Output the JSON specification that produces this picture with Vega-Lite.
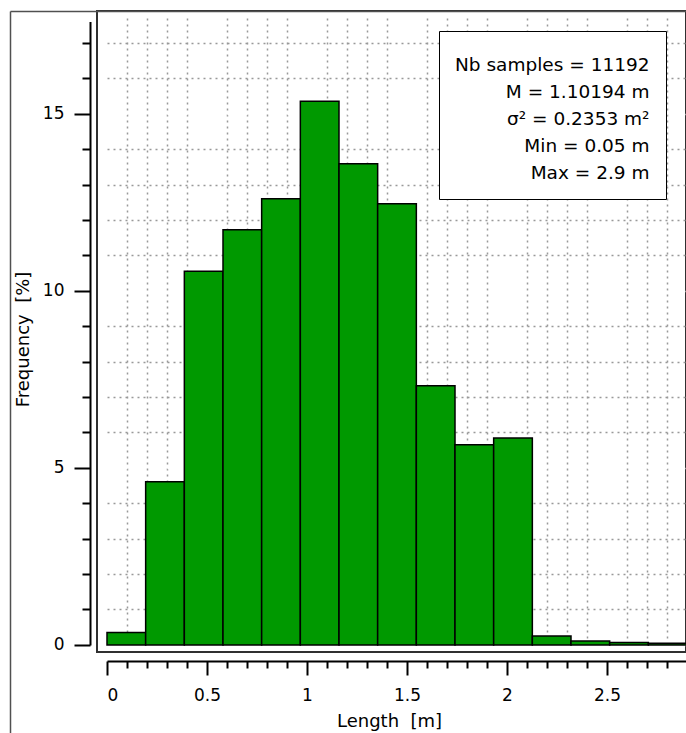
{
  "$schema": "https://vega.github.io/schema/vega-lite/v6.json",
  "width": 589,
  "height": 641,
  "autosize": {"type": "none"},
  "padding": {"left": 97, "top": 11, "right": 0, "bottom": 81},
  "background": "white",
  "config": {
    "view": {"fill": "#c0c0c0", "stroke": "#303030", "strokeWidth": 2},
    "font": "DejaVu Sans",
    "axis": {
      "labelFont": "DejaVu Sans", "labelFontSize": 17, "labelColor": "black",
      "titleFont": "DejaVu Sans", "titleFontSize": 18, "titleFontWeight": "normal", "titleColor": "black",
      "domainColor": "black", "tickColor": "black", "domainWidth": 2, "tickWidth": 2, "gridWidth": 1.5
    }
  },
  "datasets": {
    "hist": [
      {"start": 0.0, "end": 0.1933, "freq": 0.35},
      {"start": 0.1933, "end": 0.3867, "freq": 4.61},
      {"start": 0.3867, "end": 0.58, "freq": 10.55},
      {"start": 0.58, "end": 0.7733, "freq": 11.72},
      {"start": 0.7733, "end": 0.9667, "freq": 12.6},
      {"start": 0.9667, "end": 1.16, "freq": 15.35},
      {"start": 1.16, "end": 1.3533, "freq": 13.59},
      {"start": 1.3533, "end": 1.5467, "freq": 12.46},
      {"start": 1.5467, "end": 1.74, "freq": 7.32},
      {"start": 1.74, "end": 1.9333, "freq": 5.65},
      {"start": 1.9333, "end": 2.1267, "freq": 5.84},
      {"start": 2.1267, "end": 2.32, "freq": 0.25},
      {"start": 2.32, "end": 2.5133, "freq": 0.11},
      {"start": 2.5133, "end": 2.7067, "freq": 0.07},
      {"start": 2.7067, "end": 2.9, "freq": 0.05}
    ],
    "stats": [
      {"stat": "Nb samples = 11192"},
      {"stat": "M = 1.10194 m"},
      {"stat": "σ² = 0.2353 m²"},
      {"stat": "Min = 0.05 m"},
      {"stat": "Max = 2.9 m"}
    ]
  },
  "layer": [
    {
      "data": {"name": "hist"},
      "mark": {"type": "rect", "fill": "#009900", "stroke": "black", "strokeWidth": 1.5, "clip": true},
      "encoding": {
        "x": {"field": "start", "type": "quantitative", "scale": {"domain": [-0.05, 2.895], "nice": false, "zero": false}, "axis": null},
        "x2": {"field": "end"},
        "y": {"field": "freq", "type": "quantitative", "scale": {"domain": [-0.2, 17.9], "nice": false, "zero": false}, "axis": null},
        "y2": {"datum": 0}
      }
    },
    {
      "data": {"name": "hist"},
      "mark": {"type": "point", "opacity": 0},
      "encoding": {
        "x": {"field": "start", "type": "quantitative",
          "scale": {"domain": [0, 2.9], "range": [10, 590], "nice": false, "zero": false},
          "axis": {"orient": "bottom", "offset": 9, "values": [0, 0.5, 1, 1.5, 2, 2.5], "format": "~g",
            "tickSize": 14, "labelPadding": 12, "grid": true, "gridColor": "white", "gridDash": [2, 4],
            "title": "Length\u00a0 [m]", "titleX": 292, "titleY": 65, "titleBaseline": "alphabetic"}},
        "y": {"field": "freq", "type": "quantitative",
          "scale": {"domain": [0, 17.6], "range": [633.9, 10.6], "nice": false, "zero": false},
          "axis": {"orient": "left", "offset": 7, "values": [0, 5, 10, 15], "format": "~g",
            "tickSize": 16, "labelPadding": 10, "grid": true, "gridColor": "white", "gridDash": [2, 4],
            "title": "Frequency\u00a0 [%]", "titleX": -62, "titleY": 328, "titleBaseline": "alphabetic", "titleAngle": 270}}
      }
    },
    {
      "data": {"name": "hist"},
      "mark": {"type": "point", "opacity": 0},
      "encoding": {
        "x": {"field": "start", "type": "quantitative",
          "scale": {"domain": [0, 2.9], "range": [10, 590], "nice": false, "zero": false},
          "axis": {"orient": "bottom", "offset": 9,
            "values": [0.1, 0.2, 0.3, 0.4, 0.6, 0.7, 0.8, 0.9, 1.1, 1.2, 1.3, 1.4, 1.6, 1.7, 1.8, 1.9, 2.1, 2.2, 2.3, 2.4, 2.6, 2.7, 2.8],
            "tickSize": 7, "labels": false, "domain": false, "title": null,
            "grid": true, "gridColor": "#999999", "gridDash": [2, 4]}},
        "y": {"field": "freq", "type": "quantitative",
          "scale": {"domain": [0, 17.6], "range": [633.9, 10.6], "nice": false, "zero": false},
          "axis": {"orient": "left", "offset": 7,
            "values": [1, 2, 3, 4, 6, 7, 8, 9, 11, 12, 13, 14, 16, 17],
            "tickSize": 8, "labels": false, "domain": false, "title": null,
            "grid": true, "gridColor": "#999999", "gridDash": [2, 4]}}
      }
    },
    {
      "data": {"name": "hist"},
      "mark": {"type": "point", "opacity": 0},
      "encoding": {
        "x": {"field": "start", "type": "quantitative",
          "scale": {"domain": [0, 1], "range": [-87, 589], "nice": false, "zero": false},
          "axis": {"orient": "top", "offset": 0, "ticks": false, "labels": false, "grid": false,
            "domain": true, "domainColor": "#505050", "domainWidth": 1.5, "title": null}},
        "y": {"field": "freq", "type": "quantitative",
          "scale": {"domain": [0, 1], "range": [722, 0], "nice": false, "zero": false},
          "axis": {"orient": "left", "offset": 87, "ticks": false, "labels": false, "grid": false,
            "domain": true, "domainColor": "#505050", "domainWidth": 1.5, "title": null}}
      }
    },
    {
      "data": {"name": "stats"},
      "mark": {"type": "point", "opacity": 0},
      "encoding": {
        "color": {"field": "stat", "type": "nominal", "sort": null,
          "scale": {"range": ["black"]},
          "legend": {"title": "\u00a0", "titleFontSize": 6, "titlePadding": 3,
            "orient": "top-right", "offset": 20,
            "fillColor": "white", "strokeColor": "black", "padding": 16, "rowPadding": 8,
            "labelFont": "DejaVu Sans", "labelFontSize": 18.5, "labelColor": "black", "labelLimit": 500,
            "labelAlign": "right", "labelOffset": 176,
            "symbolSize": 0, "symbolOpacity": 0, "symbolStrokeWidth": 0}}
      }
    }
  ],
  "resolve": {
    "scale": {"x": "independent", "y": "independent", "color": "independent"},
    "axis": {"x": "independent", "y": "independent"}
  }
}
